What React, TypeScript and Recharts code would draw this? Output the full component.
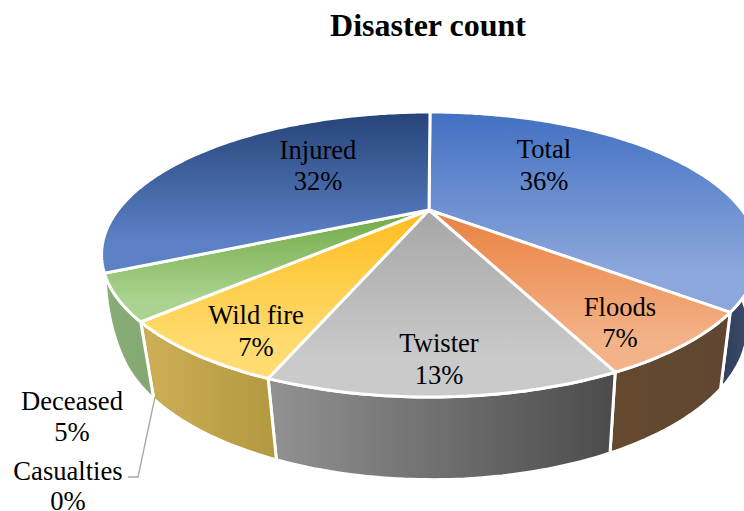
import { PieChart, Pie } from "recharts";

const categories = ["Total", "Floods", "Twister", "Wild fire", "Casualties", "Deceased", "Injured"];
const shares = [36, 7, 13, 7, 0, 5, 32];

const topColors: Record<string, [string, string]> = {
  Total: ["#4270C2", "#8CA7DC"],
  Floods: ["#E98140", "#F3B287"],
  Twister: ["#A6A6A6", "#CACACA"],
  "Wild fire": ["#FDBD1E", "#FFDB70"],
  Casualties: ["#5B9BD5", "#9DC3E6"],
  Deceased: ["#6FA945", "#ABD38F"],
  Injured: ["#264478", "#5B80C6"],
};
const wallColors: Record<string, [string, string]> = {
  Total: ["#2F3E5A", "#3E4F6E"],
  Floods: ["#65492F", "#604631"],
  Twister: ["#929292", "#4B4B4B"],
  "Wild fire": ["#CEAF57", "#B2983F"],
  Casualties: ["#5B7FA5", "#5B7FA5"],
  Deceased: ["#89AD78", "#85A873"],
  Injured: ["#1E3560", "#1E3560"],
};
// label centre x, then the baselines of its two lines
const labelSpots: Record<string, [number, number, number]> = {
  Total: [544, 158, 190],
  Floods: [620, 316, 347],
  Twister: [439, 352, 384],
  "Wild fire": [256, 324, 356],
  Casualties: [68, 480, 510],
  Deceased: [72, 410, 441],
  Injured: [318, 159, 190],
};

const data = categories.map((name, i) => ({ name, value: shares[i] }));

const CX = 429;
const CY = 210;
const TILT = 0.3123;
const SERIF = "'Liberation Serif', 'Times New Roman', serif";

// perspective: v > 0 comes towards the viewer, so the near rim spreads out
const topPoint = (clock: number): [number, number] => {
  const r = (clock * Math.PI) / 180;
  const u = Math.sin(r);
  const v = -Math.cos(r);
  const w = 1 - TILT * v;
  return [CX + 1 + (312 * u) / w, CY + (128.6 * v) / w];
};
const basePoint = (clock: number): [number, number] => {
  const r = (clock * Math.PI) / 180;
  const u = Math.sin(r);
  const v = -Math.cos(r);
  const w = 1 - TILT * v;
  // lower rim flares out a little towards the left silhouette
  const flare = clock > 240 ? (clock - 240) ** 2 * 0.03 : 0;
  return [CX + 3 + (300 * u) / w - flare, 279 + (138 * v) / w];
};

const arc = (fn: (c: number) => [number, number], from: number, to: number) => {
  const pts: string[] = [];
  const steps = Math.max(2, Math.ceil(Math.abs(to - from)));
  for (let i = 0; i <= steps; i++) {
    const [x, y] = fn(from + ((to - from) * i) / steps);
    pts.push(`${x.toFixed(1)},${y.toFixed(1)}`);
  }
  return pts;
};

const slug = (name: string) => name.replace(/\s/g, "");

function TopSlice(props: any) {
  const a = 90 - props.startAngle;
  const b = 90 - props.endAngle;
  if (b - a < 0.01) return null;
  const d = `M${CX},${CY} L${arc(topPoint, a, b).join(" L")} Z`;
  return <path d={d} fill={`url(#top-${slug(props.name)})`} stroke="#fff" strokeWidth={3} strokeLinejoin="round" />;
}

function WallSlice(props: any) {
  const a = Math.max(90 - props.startAngle, 90);
  let b = 90 - props.endAngle;
  // back half is hidden, the last front slice runs round to the silhouette
  if ((a + b) / 2 >= 270 || b - a < 0.01) return null;
  if (b > 240) b = 270;
  const upper = arc(topPoint, a, b);
  const lower = arc(basePoint, b, a);
  const d = `M${upper.join(" L")} L${lower.join(" L")} Z`;
  return <path d={d} fill={`url(#wall-${slug(props.name)})`} stroke="#fff" strokeWidth={3} strokeLinejoin="round" />;
}

function SliceLabel(props: any) {
  const [x, y1, y2] = labelSpots[props.name];
  return (
    <text textAnchor="middle" fontFamily={SERIF} fontSize={26.6} fill="#000">
      <tspan x={x} y={y1}>{props.name}</tspan>
      <tspan x={x} y={y2}>{`${props.value}%`}</tspan>
    </text>
  );
}

function LeaderLine(props: any) {
  if (props.name !== "Casualties") return <g />;
  return <polyline points="155,397 138,477 128,477" fill="none" stroke="#A6A6A6" strokeWidth={1.3} />;
}

export default function App() {
  return (
    <div style={{ position: "absolute", left: 0, top: 0, width: 744, height: 511, overflow: "hidden", background: "#fff" }}>
      <PieChart width={744} height={511} margin={{ top: 0, right: 0, bottom: 0, left: 0 }}>
        <defs>
          {categories.map(name => (
            <linearGradient key={name} id={`top-${slug(name)}`} x1="0" y1="0" x2="0" y2="1">
              <stop offset="0%" stopColor={topColors[name][0]} />
              <stop offset="80%" stopColor={topColors[name][1]} />
            </linearGradient>
          ))}
          {categories.map(name => (
            <linearGradient key={name} id={`wall-${slug(name)}`} x1="0" y1="0" x2="1" y2="0">
              <stop offset="0%" stopColor={wallColors[name][0]} />
              <stop offset="100%" stopColor={wallColors[name][1]} />
            </linearGradient>
          ))}
        </defs>
        <text x={428} y={36} textAnchor="middle" fontFamily={SERIF} fontSize={32} fontWeight="bold" fill="#000">
          Disaster count
        </text>
        <Pie data={data} dataKey="value" nameKey="name" cx={CX} cy={CY} outerRadius={100} startAngle={90} endAngle={-270}
          shape={WallSlice} label={false} isAnimationActive={false} />
        <Pie data={data} dataKey="value" nameKey="name" cx={CX} cy={CY} outerRadius={100} startAngle={90} endAngle={-270}
          shape={TopSlice} label={SliceLabel} labelLine={LeaderLine} isAnimationActive={false} />
      </PieChart>
    </div>
  );
}
